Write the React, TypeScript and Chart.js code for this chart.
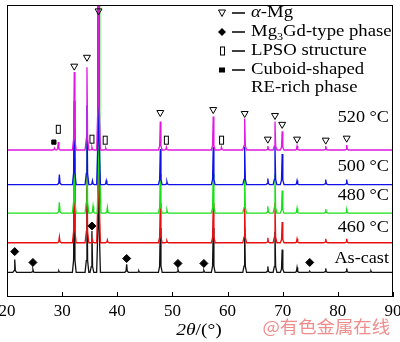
import React, { useEffect, useRef } from "react";
import { Chart, registerables } from "chart.js";

Chart.register(...registerables);

// ---- Data ----
// Vertical offsets of each stacked XRD pattern (arbitrary intensity units)
const offsets = { asCast: 24, t460: 54, t480: 84, t500: 113, t520: 148 };

// Peaks as [2θ (deg), peak height above the pattern's own baseline]
const peaksAsCast: [number, number][] = [
  [21.4, 13], [24.7, 3], [29.4, 1.5], [32.2, 90], [34.5, 85], [35.4, 42], [36.6, 320],
  [41.7, 8], [43.9, 1.5], [47.8, 45], [51.0, 3], [55.7, 2], [57.4, 45], [63.1, 45],
  [67.3, 6], [68.6, 41], [69.9, 23], [72.6, 5], [74.9, 1], [77.8, 4], [81.6, 4], [86.0, 1.5],
];
const peaks460: [number, number][] = [
  [29.5, 6], [32.2, 85], [34.5, 80], [35.5, 3], [36.6, 320], [38.2, 3], [47.8, 40],
  [49.0, 2], [57.4, 40], [63.1, 40], [67.3, 5], [68.6, 40], [69.9, 21], [72.6, 4],
  [77.8, 4], [81.6, 4],
];
const peaks480: [number, number][] = [
  [29.5, 11], [32.2, 85], [34.5, 80], [35.6, 7], [36.7, 320], [38.2, 6], [47.8, 40],
  [49.0, 3], [57.4, 40], [63.1, 40], [67.3, 7], [68.6, 40], [69.9, 23], [72.6, 5],
  [77.8, 4], [81.6, 3],
];
const peaks500: [number, number][] = [
  [29.5, 10], [32.2, 85], [34.5, 80], [35.5, 4], [36.6, 320], [38.0, 4], [47.8, 36],
  [49.0, 3], [57.4, 38], [63.1, 38], [67.3, 6], [68.6, 38], [69.9, 31], [72.6, 4],
  [77.8, 5], [81.6, 5],
];
const peaks520: [number, number][] = [
  [28.6, 2], [29.3, 8], [32.2, 79], [34.5, 84], [35.4, 3], [36.6, 320], [37.9, 2],
  [47.8, 29], [48.9, 3], [57.4, 34], [58.9, 3], [63.1, 32], [67.3, 4], [68.6, 29],
  [69.9, 19], [72.6, 4], [77.8, 4], [81.6, 5],
];

// Phase markers: [2θ, y]
const alphaMgMarks: [number, number][] = [
  [32.2, 233], [34.5, 242], [36.6, 289], [47.8, 186], [57.4, 189], [63.1, 185],
  [67.3, 159], [68.6, 183], [69.9, 174], [72.6, 159], [77.8, 158], [81.6, 160],
];
const lpsoMarks: [number, number][] = [
  [29.3, 169], [35.4, 159], [37.8, 158], [48.9, 158], [58.9, 158],
];
const cuboidMarks: [number, number][] = [[28.5, 156]];
const mg3gdMarks: [number, number][] = [
  [21.4, 45], [24.7, 34], [35.4, 71], [41.7, 38], [51.0, 33], [55.7, 33], [74.9, 34],
];

const xTicks = [20, 30, 40, 50, 60, 70, 80, 90];
const sampleLabels = ["520 °C", "500 °C", "480 °C", "460 °C", "As-cast"];
const sampleLabelY = [118, 167, 196, 228, 259]; // pixel rows of the labels
const legendLabels = ["α-Mg", "Mg3Gd-type phase", "LPSO structure", "Cuboid-shaped", "RE-rich phase"];

const SERIF = "'Liberation Serif', 'Times New Roman', serif";
const SX = 1.1; // horizontal stretch of the reference lettering

// Each peak is drawn as a narrow spike with a slightly broader foot
function trace(offset: number, peaks: [number, number][]) {
  const pts: { x: number; y: number }[] = [{ x: 20, y: offset }];
  for (const [p, h] of peaks) {
    pts.push(
      { x: p - 0.34, y: offset },
      { x: p - 0.12, y: offset + h * 0.14 },
      { x: p, y: offset + h },
      { x: p + 0.12, y: offset + h * 0.14 },
      { x: p + 0.34, y: offset }
    );
  }
  pts.push({ x: 90, y: offset });
  return pts;
}

function toPts(a: [number, number][]) {
  return a.map(([x, y]) => ({ x, y }));
}

function makeRectImg() {
  const c = document.createElement("canvas");
  c.width = 7;
  c.height = 11;
  const g = c.getContext("2d")!;
  g.strokeStyle = "#000";
  g.lineWidth = 1;
  g.strokeRect(1.5, 1.5, 4, 8);
  return c;
}

type Seg = { t: string; font: string; dy?: number };

// draw a run of text segments, stretched horizontally by sx
function drawRun(
  ctx: CanvasRenderingContext2D,
  segs: Seg[],
  x: number,
  y: number,
  align: "left" | "right" | "center",
  sx: number
) {
  let total = 0;
  for (const s of segs) {
    ctx.font = s.font;
    total += ctx.measureText(s.t).width;
  }
  const start = align === "left" ? 0 : align === "right" ? -total : -total / 2;
  ctx.save();
  ctx.translate(x, y);
  ctx.scale(sx, 1);
  ctx.textAlign = "left";
  ctx.textBaseline = "middle";
  let cx = start;
  for (const s of segs) {
    ctx.font = s.font;
    ctx.fillText(s.t, cx, s.dy || 0);
    cx += ctx.measureText(s.t).width;
  }
  ctx.restore();
}

export default function App() {
  const ref = useRef<HTMLCanvasElement>(null);

  useEffect(() => {
    document.body.style.margin = "0";
    const rectImg = makeRectImg();

    const overlay = {
      id: "overlay",
      afterDraw(chart: any) {
        const ctx = chart.ctx as CanvasRenderingContext2D;
        const a = chart.chartArea;
        const xs = chart.scales.x;
        ctx.save();
        // frame
        ctx.strokeStyle = "#000";
        ctx.lineWidth = 1;
        ctx.strokeRect(a.left + 0.5, a.top + 0.5, a.right - a.left - 1, a.bottom - a.top);
        // inward ticks
        for (const t of xTicks) {
          const px = Math.round(xs.getPixelForValue(t)) + 0.5;
          ctx.beginPath();
          ctx.moveTo(px, a.bottom);
          ctx.lineTo(px, a.bottom - 4);
          ctx.stroke();
        }
        ctx.fillStyle = "#000";
        const f = `17px ${SERIF}`;
        const fi = `italic 17px ${SERIF}`;
        // sample labels
        sampleLabels.forEach((s, i) => drawRun(ctx, [{ t: s, font: f }], 389, sampleLabelY[i], "right", 1.07));

        // legend
        const lx = 222;
        const ly = [13, 32, 51, 70, 88];
        ctx.lineWidth = 1;
        ctx.beginPath();
        ctx.moveTo(lx - 3.5, ly[0] - 3);
        ctx.lineTo(lx + 3.5, ly[0] - 3);
        ctx.lineTo(lx, ly[0] + 3.5);
        ctx.closePath();
        ctx.stroke();
        ctx.beginPath();
        ctx.moveTo(lx, ly[1] - 4);
        ctx.lineTo(lx + 4, ly[1]);
        ctx.lineTo(lx, ly[1] + 4);
        ctx.lineTo(lx - 4, ly[1]);
        ctx.closePath();
        ctx.fill();
        ctx.strokeRect(lx - 1.5, ly[2] - 4, 4, 8);
        ctx.fillRect(lx - 3, ly[3] - 2.5, 6, 5);
        ctx.lineWidth = 1.5;
        for (let i = 0; i < 4; i++) {
          ctx.beginPath();
          ctx.moveTo(232, ly[i]);
          ctx.lineTo(245, ly[i]);
          ctx.stroke();
        }
        const tx = 251;
        drawRun(ctx, [{ t: "α", font: fi }, { t: "-Mg", font: f }], tx, ly[0], "left", SX);
        drawRun(
          ctx,
          [
            { t: "Mg", font: f },
            { t: "3", font: `11px ${SERIF}`, dy: 5 },
            { t: "Gd-type phase", font: f },
          ],
          tx,
          ly[1],
          "left",
          SX
        );
        drawRun(ctx, [{ t: legendLabels[2], font: f }], tx, ly[2], "left", SX);
        drawRun(ctx, [{ t: legendLabels[3], font: f }], tx, ly[3], "left", SX);
        drawRun(ctx, [{ t: legendLabels[4], font: f }], tx, ly[4], "left", SX);

        // axis title 2θ/(°)
        drawRun(ctx, [{ t: "2θ", font: fi }, { t: "/(°)", font: f }], 199, 331, "center", 1.15);

        // watermark
        ctx.fillStyle = "#f08c8c";
        drawRun(ctx, [{ t: "@有色金属在线", font: `17px 'Noto Sans CJK SC', sans-serif` }], 390, 327, "right", 1.08);
        ctx.restore();
      },
    };

    const lineDs = (label: string, data: any[], color: string, order: number) => ({
      label,
      data,
      borderColor: color,
      borderWidth: 1.3,
      pointRadius: 0,
      tension: 0,
      fill: false,
      order,
    });

    const chart = new Chart(ref.current!, {
      type: "line",
      data: {
        datasets: [
          {
            type: "scatter",
            label: "α-Mg",
            data: toPts(alphaMgMarks),
            pointStyle: "triangle",
            rotation: 180,
            radius: 4,
            borderColor: "#000",
            backgroundColor: "rgba(0,0,0,0)",
            borderWidth: 1,
            order: 0,
          } as any,
          {
            type: "scatter",
            label: "LPSO structure",
            data: toPts(lpsoMarks),
            pointStyle: rectImg,
            order: 0,
          } as any,
          {
            type: "scatter",
            label: "Cuboid-shaped RE-rich phase",
            data: toPts(cuboidMarks),
            pointStyle: "rect",
            radius: 3,
            borderColor: "#000",
            backgroundColor: "#000",
            order: 0,
          } as any,
          {
            type: "scatter",
            label: "Mg3Gd-type phase",
            data: toPts(mg3gdMarks),
            pointStyle: "rectRot",
            radius: 4,
            borderColor: "#000",
            backgroundColor: "#000",
            order: 0,
          } as any,
          lineDs("520 °C", trace(offsets.t520, peaks520), "#e018e0", 1),
          lineDs("500 °C", trace(offsets.t500, peaks500), "#1010e8", 2),
          lineDs("480 °C", trace(offsets.t480, peaks480), "#18e018", 3),
          lineDs("460 °C", trace(offsets.t460, peaks460), "#e81010", 4),
          lineDs("As-cast", trace(offsets.asCast, peaksAsCast), "#111111", 5),
        ],
      },
      options: {
        animation: false,
        responsive: false,
        maintainAspectRatio: false,
        layout: { padding: { left: 7, right: 7, top: 1, bottom: 0 } },
        plugins: { legend: { display: false }, tooltip: { enabled: false } },
        scales: {
          x: {
            type: "linear",
            min: 20,
            max: 90,
            afterBuildTicks: (axis: any) => {
              axis.ticks = xTicks.map((v) => ({ value: v }));
            },
            afterFit: (axis: any) => {
              axis.height = 46;
              axis.paddingLeft = 0;
              axis.paddingRight = 0;
            },
            grid: { display: false, drawTicks: false },
            border: { display: true, color: "#000", width: 1 },
            ticks: {
              color: "#000",
              padding: 5,
              maxRotation: 0,
              autoSkip: false,
              font: { family: SERIF, size: 17 },
            },
          },
          y: { display: false, min: 0, max: 295 },
        },
      },
      plugins: [overlay],
    });
    return () => chart.destroy();
  }, []);

  return (
    <div style={{ position: "absolute", left: 0, top: 0, width: 400, height: 342 }}>
      <canvas ref={ref} width={400} height={342} style={{ width: 400, height: 342, display: "block" }} />
    </div>
  );
}
